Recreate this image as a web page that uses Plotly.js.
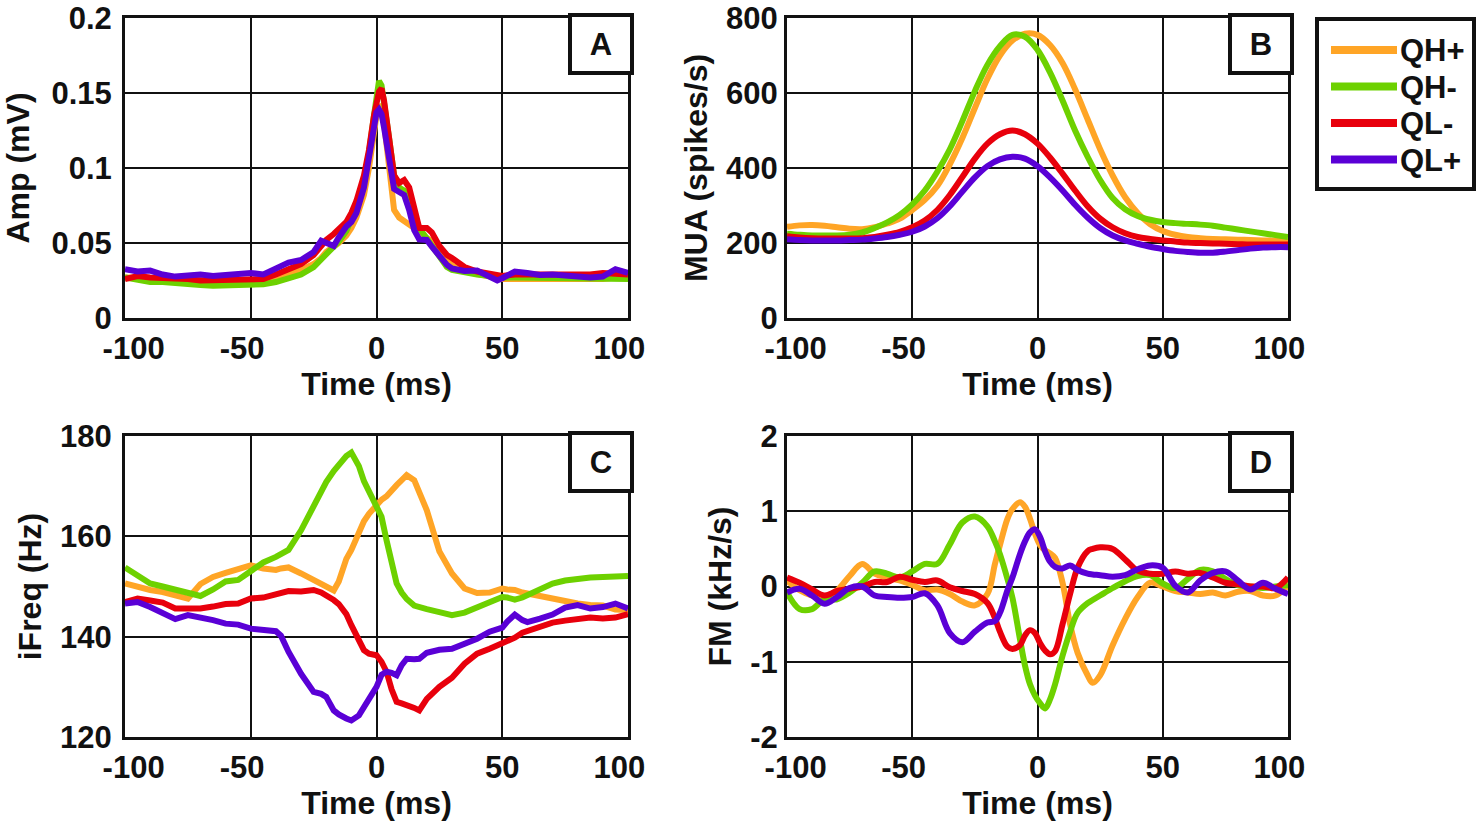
<!DOCTYPE html>
<html>
<head>
<meta charset="utf-8">
<script src="https://cdn.plot.ly/plotly-3.0.1.min.js"></script>
<style>html,body{margin:0;padding:0;background:#fff;}#chart{width:1477px;height:821px;}</style>
</head>
<body>
<div id="chart"></div>
<script>
// ---------------- DATA ----------------
const seriesNames = ['QH+', 'QH-', 'QL-', 'QL+'];
const seriesColors = ['#FFA526', '#6DD100', '#E8000C', '#5A00D6'];

const xTickVals = [-100, -50, 0, 50, 100];
const xTickText = ['\u00A0\u00A0-100', '-50\u00A0\u00A0', '0', '50', '100\u00A0\u00A0'];

// Panel A: Amp (mV)
const timeA = [-100,-95,-90,-85,-80,-75,-70,-65,-60,-55,-50,-45,-40,-35,-30,-25,-22,-20,-17,-15,-12,-10,-8,-5,-3,-1,0,1,2,3,5,7,9,11,13,15,17,20,22,25,28,30,35,40,45,48,50,55,60,65,70,75,80,85,90,95,100];
const ampQHp = [0.027,0.027,0.026,0.027,0.027,0.026,0.026,0.025,0.025,0.025,0.025,0.025,0.027,0.029,0.032,0.036,0.040,0.044,0.047,0.050,0.055,0.060,0.067,0.082,0.100,0.125,0.135,0.142,0.140,0.130,0.100,0.072,0.067,0.065,0.063,0.060,0.057,0.054,0.051,0.045,0.038,0.035,0.031,0.029,0.028,0.026,0.026,0.026,0.026,0.026,0.026,0.026,0.025,0.026,0.026,0.027,0.027];
const ampQHm = [0.027,0.025,0.024,0.024,0.023,0.0225,0.022,0.0215,0.0215,0.0215,0.022,0.0225,0.024,0.027,0.029,0.034,0.039,0.043,0.047,0.051,0.058,0.065,0.074,0.092,0.110,0.135,0.148,0.158,0.155,0.145,0.120,0.095,0.087,0.085,0.078,0.068,0.060,0.053,0.048,0.040,0.034,0.032,0.030,0.029,0.028,0.027,0.027,0.027,0.027,0.027,0.027,0.027,0.027,0.027,0.026,0.026,0.026];
const ampQLm = [0.026,0.028,0.027,0.027,0.026,0.026,0.025,0.025,0.025,0.025,0.025,0.026,0.029,0.032,0.036,0.042,0.048,0.052,0.056,0.059,0.064,0.070,0.078,0.095,0.112,0.135,0.145,0.151,0.153,0.145,0.120,0.095,0.090,0.092,0.087,0.072,0.060,0.060,0.057,0.048,0.042,0.040,0.034,0.031,0.030,0.029,0.028,0.029,0.029,0.029,0.029,0.028,0.029,0.029,0.030,0.029,0.029];
const ampQLp = [0.0325,0.031,0.0316,0.029,0.0276,0.028,0.029,0.028,0.0287,0.0287,0.030,0.029,0.033,0.037,0.0387,0.044,0.0515,0.050,0.048,0.0537,0.061,0.064,0.070,0.087,0.105,0.127,0.137,0.139,0.136,0.127,0.107,0.086,0.084,0.082,0.072,0.0586,0.0524,0.052,0.0475,0.041,0.0354,0.033,0.0314,0.0316,0.0276,0.025,0.0265,0.031,0.030,0.0287,0.029,0.028,0.028,0.027,0.0276,0.0325,0.030];

// Panel B: MUA (spikes/s)
const timeB = [-100,-95,-90,-85,-80,-75,-70,-65,-60,-55,-50,-45,-40,-35,-30,-25,-20,-15,-10,-5,0,5,10,15,20,25,30,35,40,45,50,55,60,65,70,75,80,85,90,95,100];
const muaQHp = [243,247,248,246,242,238,237,242,252,265,288,315,352,410,480,560,638,700,740,758,755,728,680,610,530,450,380,322,280,250,232,222,216,213,211,210,209,208,207,206,205];
const muaQHm = [225,222,220,220,220,222,228,240,255,275,303,340,390,450,525,605,675,725,755,750,715,655,580,500,430,368,320,290,272,262,256,253,251,249,246,241,236,231,226,221,216];
const muaQLm = [218,215,213,212,212,212,213,216,222,230,242,260,288,328,376,425,465,490,500,490,465,428,385,340,298,265,242,226,216,211,207,204,201,200,199,198,197,196,196,196,196];
const muaQLp = [210,208,207,207,207,208,209,212,216,222,230,244,266,298,337,375,405,423,430,425,405,375,340,302,268,240,220,207,198,190,184,179,176,174,174,177,181,185,188,189,189];

// Panel C: iFreq (Hz)
const timeC = [-100,-95,-90,-85,-80,-75,-70,-65,-60,-55,-50,-45,-40,-38,-35,-30,-25,-22,-20,-17,-15,-12,-10,-7,-5,-3,0,2,4,6,8,10,12,15,17,20,25,30,35,40,45,50,52,55,58,60,65,70,75,80,85,90,95,100];
const freqQHp = [150.6,149.9,149.3,148.9,148.3,147.6,150.5,151.9,152.7,153.4,154.2,153.6,153.3,153.6,153.8,152.6,151.4,150.5,149.9,149.2,151.0,155.5,157.3,161.0,163.0,164.5,166.2,167.3,168.0,169.3,170.2,171.2,172.2,171.2,169.0,165.2,157.0,152.6,149.6,148.7,148.8,149.6,149.4,149.3,148.8,148.6,148.2,147.4,147.0,146.6,146.3,146.2,145.4,145.3];
const freqQHm = [153.8,152.3,150.6,150.0,149.4,148.6,148.1,149.4,151.0,151.3,153.0,154.8,155.9,156.4,157.3,161.2,166.0,169.0,170.8,173.0,174.3,176.0,176.7,174.0,171.0,169.0,166.0,163.9,159.2,154.6,150.6,148.8,147.5,146.2,145.8,145.5,144.9,144.3,144.8,145.8,147.0,147.9,147.8,147.4,147.8,148.3,149.5,150.6,151.2,151.6,151.8,151.9,152.0,152.1];
const freqQLm = [146.9,147.6,147.2,146.8,145.6,145.6,145.6,146.0,146.5,146.6,147.6,147.8,148.3,148.6,149.1,149.0,149.3,148.8,148.3,147.3,146.5,144.5,142.3,139.5,137.3,136.6,136.3,135.0,133.0,129.5,127.0,126.7,126.4,125.8,125.3,127.6,130.0,131.8,134.6,136.6,137.6,138.6,139.2,139.8,140.8,141.1,141.8,142.8,143.2,143.4,143.8,143.6,143.8,144.5];
const freqQLp = [146.6,146.9,145.9,144.8,143.5,144.3,143.9,143.3,142.6,142.4,141.6,141.3,141.1,140.2,137.0,132.6,129.0,128.6,128.0,125.3,124.5,123.7,123.3,124.3,125.8,127.3,130.0,132.4,133.0,132.8,132.3,134.3,135.6,135.5,135.6,136.8,137.4,137.6,138.5,139.6,141.0,141.8,143.0,144.4,143.3,142.9,143.6,144.4,145.8,146.3,145.6,145.9,146.6,145.6];

// Panel D: FM (kHz/s)
const timeD = [-100,-95,-90,-85,-80,-75,-70,-65,-60,-55,-50,-45,-40,-35,-30,-25,-20,-17,-15,-12,-10,-7,-5,-3,-1,1,3,5,7,10,13,16,20,22,25,30,35,40,45,50,55,60,65,70,75,80,85,90,95,100];
const fmQHp = [0.08,-0.05,-0.12,-0.14,-0.05,0.14,0.30,0.17,0.12,0.08,0.02,-0.05,-0.04,-0.10,-0.20,-0.25,-0.10,0.30,0.55,0.90,1.03,1.12,1.06,0.90,0.70,0.55,0.48,0.44,0.38,0.05,-0.50,-0.88,-1.18,-1.28,-1.18,-0.78,-0.43,-0.14,0.05,0.00,-0.06,-0.08,-0.10,-0.08,-0.12,-0.07,-0.06,-0.12,-0.12,0.02];
const fmQHm = [-0.08,-0.30,-0.30,-0.17,-0.17,-0.08,0.05,0.20,0.17,0.12,0.20,0.30,0.30,0.56,0.85,0.93,0.80,0.60,0.43,0.10,-0.15,-0.70,-1.05,-1.30,-1.45,-1.55,-1.62,-1.50,-1.30,-0.92,-0.60,-0.35,-0.22,-0.18,-0.12,-0.02,0.07,0.14,0.15,0.04,-0.02,0.10,0.22,0.20,0.10,0.02,0.00,-0.02,0.00,0.02];
const fmQLm = [0.12,0.05,-0.04,-0.12,-0.06,-0.03,0.00,0.06,0.06,0.13,0.09,0.06,0.08,-0.01,-0.06,-0.10,-0.22,-0.42,-0.60,-0.80,-0.83,-0.78,-0.65,-0.58,-0.62,-0.75,-0.85,-0.90,-0.86,-0.50,-0.10,0.25,0.47,0.50,0.52,0.50,0.36,0.21,0.17,0.17,0.20,0.17,0.18,0.12,0.05,0.03,0.00,0.00,-0.02,0.12];
const fmQLp = [-0.08,-0.03,-0.12,-0.23,-0.14,-0.02,0.00,-0.12,-0.14,-0.15,-0.14,-0.09,-0.25,-0.62,-0.74,-0.60,-0.48,-0.46,-0.35,-0.05,0.12,0.43,0.60,0.72,0.76,0.66,0.47,0.33,0.26,0.24,0.28,0.22,0.17,0.16,0.15,0.13,0.15,0.23,0.28,0.25,0.01,-0.08,0.08,0.18,0.20,0.08,-0.04,0.05,-0.03,-0.10];

// ---------------- LAYOUT HELPERS ----------------
const W = 1477, H = 821;
const fx = v => v / W;
const fy = v => 1 - v / H;
const FONT = "'Liberation Sans', Arial, sans-serif";
const INK = '#111111';
const TICK = {family: FONT, size: 31, color: INK, weight: 'bold'};
const TITLE = {family: FONT, size: 32, color: INK, weight: 'bold'};

const panels = [
  {key:'', x:[125,628], y:[18,318], time:timeA, vals:[ampQHp,ampQHm,ampQLm,ampQLp], shape:'linear',
   yr:[0,0.2], yt:[0,0.05,0.1,0.15,0.2], ytt:['0','0.05','0.1','0.15','0.2'], ytitle:'Amp (mV)', letter:'A', ystand:4, ytstand:22},
  {key:'2', x:[787,1288], y:[18,318], time:timeB, vals:[muaQHp,muaQHm,muaQLm,muaQLp], shape:'spline',
   yr:[0,800], yt:[0,200,400,600,800], ytt:['0','200','400','600','800'], ytitle:'MUA (spikes/s)', letter:'B', ystand:0, ytstand:9},
  {key:'3', x:[125,628], y:[436,737], time:timeC, vals:[freqQHp,freqQHm,freqQLm,freqQLp], shape:'linear',
   yr:[120,180], yt:[120,140,160,180], ytt:['120','140','160','180'], ytitle:'iFreq (Hz)', letter:'C', ystand:4, ytstand:9},
  {key:'4', x:[787,1288], y:[436,737], time:timeD, vals:[fmQHp,fmQHm,fmQLm,fmQLp], shape:'spline',
   yr:[-2,2], yt:[-2,-1,0,1,2], ytt:['-2','-1','0','1','2'], ytitle:'FM (kHz/s)', letter:'D', ystand:0, ytstand:10}
];

const traces = [];
const layout = {
  width: W, height: H,
  margin: {l:0, r:0, t:0, b:0},
  paper_bgcolor: '#ffffff', plot_bgcolor: '#ffffff',
  showlegend: false,
  font: {family: FONT, size: 31, color: INK, weight: 'bold'},
  annotations: [], shapes: []
};

panels.forEach(p => {
  p.vals.forEach((v, i) => {
    traces.push({
      type: 'scatter', mode: 'lines',
      x: p.time, y: v, name: seriesNames[i],
      xaxis: 'x' + p.key, yaxis: 'y' + p.key,
      line: {color: seriesColors[i], width: 6, shape: p.shape, smoothing: 1},
      hoverinfo: 'skip'
    });
  });
  const common = {
    showgrid: true, gridcolor: INK, gridwidth: 2,
    showline: true, mirror: true, linecolor: INK, linewidth: 3,
    zeroline: false, ticks: '', fixedrange: true,
    ticklabeloverflow: 'allow',
    tickfont: TICK
  };
  layout['xaxis' + p.key] = Object.assign({}, common, {
    domain: [fx(p.x[0]), fx(p.x[1])], anchor: 'y' + p.key,
    range: [-100, 100], tickmode: 'array', tickvals: xTickVals, ticktext: xTickText,
    ticklabelstandoff: 1,
    title: {text: 'Time (ms)', font: TITLE, standoff: 0}
  });
  layout['yaxis' + p.key] = Object.assign({}, common, {
    domain: [fy(p.y[1]), fy(p.y[0])], anchor: 'x' + p.key,
    range: p.yr, tickmode: 'array', tickvals: p.yt, ticktext: p.ytt,
    ticklabelstandoff: p.ystand,
    title: {text: p.ytitle, font: TITLE, standoff: p.ytstand}
  });
  // panel letter box
  layout.annotations.push({
    xref: 'paper', yref: 'paper',
    x: fx(p.x[1] - 27), y: fy(p.y[0] + 26),
    xanchor: 'center', yanchor: 'middle',
    text: p.letter, showarrow: false,
    width: 58, height: 54, borderpad: 0,
    bordercolor: INK, borderwidth: 4, bgcolor: '#ffffff',
    font: {family: FONT, size: 31, color: INK, weight: 'bold'}
  });
});

// legend (drawn as a boxed key to the right of panel B)
const legBox = {x0: 1317, x1: 1474, y0: 19, y1: 189};
layout.shapes.push({
  type: 'rect', xref: 'paper', yref: 'paper',
  x0: fx(legBox.x0), x1: fx(legBox.x1), y0: fy(legBox.y1), y1: fy(legBox.y0),
  line: {color: INK, width: 4}, fillcolor: '#ffffff', layer: 'above'
});
seriesNames.forEach((nm, i) => {
  const yc = 50 + i * 36.5;
  layout.shapes.push({
    type: 'line', xref: 'paper', yref: 'paper',
    x0: fx(1331), x1: fx(1397), y0: fy(yc), y1: fy(yc),
    line: {color: seriesColors[i], width: 8}, layer: 'above'
  });
  layout.annotations.push({
    xref: 'paper', yref: 'paper', x: fx(1398), y: fy(yc + 1),
    xanchor: 'left', yanchor: 'middle', text: nm, showarrow: false,
    font: {family: FONT, size: 31, color: INK, weight: 'bold'}
  });
});

Plotly.newPlot('chart', traces, layout, {staticPlot: true, displayModeBar: false});
</script>
</body>
</html>
